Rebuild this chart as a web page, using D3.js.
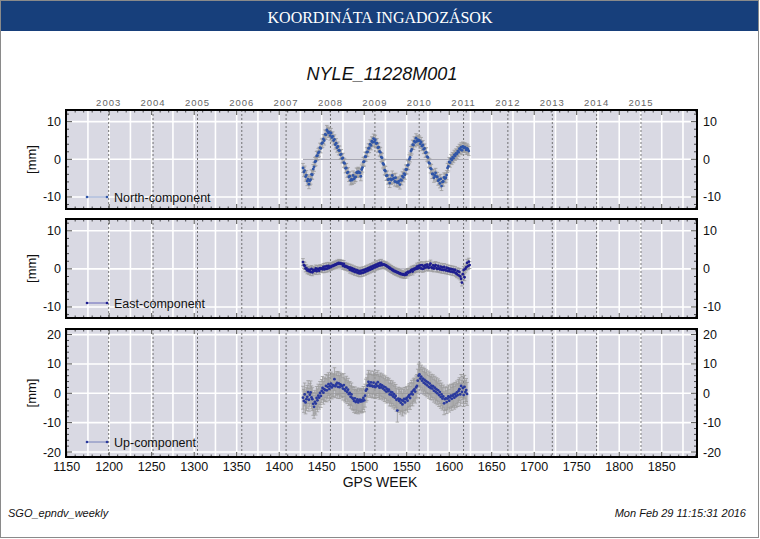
<!DOCTYPE html>
<html><head><meta charset="utf-8">
<script src="https://cdn.jsdelivr.net/npm/d3@7"></script>
<style>body{margin:0;background:#fff}svg{display:block}</style>
</head><body>
<script>
const firstWeek = 1428;
const north = [-2.3,-3.4,-3.0,-4.6,-4.2,-5.8,-5.3,-6.6,-5.7,-5.4,-4.0,-4.1,-2.6,-2.0,-0.7,-0.5,0.9,1.0,1.7,2.0,3.1,2.9,4.2,4.4,5.4,5.0,6.6,6.5,7.8,7.4,7.0,7.2,6.3,7.0,5.8,6.1,5.0,5.3,3.9,4.3,3.1,3.4,2.4,2.3,1.2,1.4,0.2,0.4,-0.9,-1.1,-2.4,-2.3,-3.6,-3.4,-4.7,-4.5,-5.6,-5.3,-5.5,-4.3,-5.2,-4.8,-4.7,-3.5,-3.6,-3.3,-3.5,-3.6,-4.5,-2.7,-2.2,-0.7,-0.6,0.7,0.7,1.9,2.0,2.9,3.0,4.0,3.7,4.8,4.5,5.5,4.7,5.2,4.2,4.3,3.1,3.2,2.1,1.9,0.6,0.4,-1.1,-1.4,-2.9,-3.1,-4.4,-4.3,-5.4,-5.3,-6.3,-5.2,-5.5,-4.3,-5.2,-5.0,-5.9,-4.9,-6.1,-6.0,-6.2,-5.8,-6.7,-5.4,-5.6,-4.5,-4.8,-3.8,-4.1,-2.7,-2.7,-1.6,-1.5,0.0,0.5,2.2,2.6,3.9,3.8,4.8,4.5,5.6,4.8,5.2,4.9,5.0,4.1,4.6,3.5,3.8,2.7,2.9,1.7,1.9,0.7,0.5,-0.9,-1.1,-2.4,-2.6,-3.9,-3.9,-4.9,-4.3,-3.6,-4.6,-4.7,-5.7,-5.4,-6.4,-5.2,-7.1,-6.0,-5.9,-4.8,-5.1,-4.9,-4.2,-2.3,-1.9,-0.7,-0.9,0.1,-0.2,0.6,0.3,1.2,0.9,1.6,1.4,2.2,1.9,2.8,2.6,3.2,2.4,3.4,3.0,3.2,3.1,2.5,2.9,2.6,2.2];
const east = [1.8,1.0,0.8,0.1,0.2,-0.4,-0.2,-0.6,-0.3,-0.8,0.0,-0.9,-0.3,-0.5,-0.4,0.1,-0.6,0.0,-0.1,-0.5,0.2,0.0,0.1,-0.1,0.5,-0.1,0.6,0.0,0.7,0.1,0.8,0.3,0.6,0.5,0.8,0.7,1.0,0.9,1.2,1.1,1.4,1.3,1.6,1.4,1.5,1.3,1.4,0.8,1.3,0.6,0.8,0.5,0.6,0.3,0.4,-0.2,0.3,-0.4,0.1,-0.6,-0.1,-0.8,-0.3,-0.9,-0.4,-1.1,-0.6,-1.2,-0.5,-1.1,-0.4,-1.0,-0.3,-0.8,-0.1,-0.6,0.1,-0.4,0.3,-0.2,0.5,0.0,0.7,0.2,0.9,0.4,1.1,0.6,1.3,0.8,1.5,0.9,1.6,1.0,1.2,1.1,1.1,0.9,0.9,0.6,0.6,0.3,0.3,0.0,0.0,-0.3,-0.3,-0.6,-0.5,-0.8,-0.7,-1.0,-0.9,-1.2,-1.1,-1.4,-1.3,-1.5,-1.4,-1.6,-1.6,-1.1,-1.5,-0.8,-1.0,-0.7,-0.8,-0.4,-0.2,-0.7,0.0,-0.2,0.1,0.0,0.6,0.1,0.8,0.3,0.9,0.1,1.0,0.0,0.7,0.2,1.0,0.4,1.1,0.5,0.3,1.0,1.4,0.4,0.2,0.9,0.1,0.7,1.0,0.2,0.0,0.8,0.1,-0.1,0.6,-0.2,0.4,-0.3,0.5,-0.2,-0.4,0.3,-0.5,0.1,-0.6,0.0,-0.7,-0.1,-0.8,-0.2,-0.9,-0.3,-1.1,-1.4,-0.6,-1.7,-0.8,-2.0,-2.6,-3.6,-1.4,-0.3,-2.2,0.0,0.4,1.6,0.7,1.9,1.0];
const up = [-1.5,-2.6,-0.4,-3.1,-2.0,-1.2,0.4,-2.2,-0.5,0.3,-1.4,-2.0,-3.6,
  -4.6,-2.9,-3.5,-1.6,-2.4,-0.8,-1.5,0.1,-0.9,0.8,
  1.8,0.2,1.4,1.1,2.5,1.0,2.2,3.1,1.5,2.4,
  3.3,2.0,2.8,2.6,4.8,2.4,3.0,3.5,2.2,3.4,
  2.1,3.0,2.7,2.4,1.6,2.8,1.3,0.9,1.9,0.4,
  1.2,-0.3,0.1,-1.2,-0.4,-1.6,-1.9,-2.6,-1.7,-3.0,
  -2.6,-2.1,-3.1,-2.5,-2.2,-2.8,-2.3,-2.7,-1.6,-2.4,
  -0.8,0.9,1.4,2.6,3.9,3.0,2.5,3.7,2.6,2.3,
  3.6,2.4,2.1,3.2,2.5,3.8,2.4,1.9,3.0,2.0,
  2.7,1.6,2.3,1.1,2.0,0.6,1.5,0.7,1.2,-0.4,
  0.5,-0.5,0.3,-1.1,-0.3,-1.5,-0.9,-2.2,-5.9,-1.8,
  -2.6,-2.0,-3.2,-2.3,-3.8,-2.6,-1.9,-3.1,-2.0,-1.6,
  -2.5,-1.1,-0.6,-1.6,-0.2,0.5,-0.4,1.0,1.3,0.6,
  2.0,2.5,4.3,6.0,6.4,5.0,5.7,4.3,5.0,3.6,
  4.6,3.2,4.1,2.7,3.7,2.2,3.3,1.8,2.6,1.6,
  2.4,0.9,1.9,0.5,1.4,0.0,1.0,-0.6,0.4,-1.2,
  -0.4,-1.8,-1.1,-3.4,-2.0,-1.7,-3.0,-1.8,-1.1,-2.5,
  -1.4,-0.8,-1.9,-0.9,-0.5,-1.5,-0.2,-1.0,0.3,-0.6,
  0.8,1.4,-0.4,2.5,0.5,1.8,-0.6,2.2,0.4,1.1,-0.2];
const northErr = 1.2, eastErr = 0.9, upErr = 3.9;
const yearLabels = ["2003","2004","2005","2006","2007","2008","2009","2010","2011","2012","2013","2014","2015"];
const yearWeeks = [1199.4,1251.6,1303.9,1356.0,1408.1,1460.3,1512.6,1564.7,1616.9,1669.0,1721.3,1773.4,1825.6];
const weekTicks = [1150,1200,1250,1300,1350,1400,1450,1500,1550,1600,1650,1700,1750,1800,1850];

const W = 760, H = 539;
const svg = d3.select("body").append("svg").attr("width", W).attr("height", H);
const font = "'Liberation Sans', Arial, Helvetica, sans-serif";

svg.append("rect").attr("x",0.5).attr("y",0.5).attr("width",W-2).attr("height",H-2).attr("fill","#fff").attr("stroke","#8a8a8a");
svg.append("rect").attr("x",1).attr("y",1).attr("width",W-3).attr("height",30).attr("fill","#173f7b");
svg.append("text").attr("x",380).attr("y",23).attr("text-anchor","middle").attr("fill","#fff")
  .attr("font-family","'Liberation Serif', 'Times New Roman', serif").attr("font-size",16).text("KOORDINÁTA INGADOZÁSOK");
svg.append("text").attr("x",382).attr("y",80).attr("text-anchor","middle").attr("fill","#111")
  .attr("font-family",font).attr("font-style","italic").attr("font-size",18).text("NYLE_11228M001");

const x = d3.scaleLinear().domain([1149.2, 1891.5]).range([66, 697]);

svg.append("g").selectAll("text").data(yearLabels).join("text")
  .attr("x",(d,i)=>x(yearWeeks[i])).attr("y",106).attr("text-anchor","middle")
  .attr("font-family",font).attr("font-size",9.5).attr("letter-spacing","1px").attr("fill","#666").text(d=>d);

const panels = [
  {name:"North-component", vals:north, err:northErr, top:110, bottom:209, dom:[-13.2,13.1], ticks:[-10,0,10], color:"#2f55a8", lineColor:"#6680bb", leg:12},
  {name:"East-component", vals:east, err:eastErr, top:219, bottom:318, dom:[-12.9,13.1], ticks:[-10,0,10], color:"#1e1e90", lineColor:"#4a4ab0", leg:15},
  {name:"Up-component", vals:up, err:upErr, top:329, bottom:457, dom:[-21.7,21.9], ticks:[-20,-10,0,10,20], color:"#2a3a9e", lineColor:"#5a6ab0", leg:15}
];

panels.forEach((p,pi) => {
  const y = d3.scaleLinear().domain(p.dom).range([p.bottom, p.top]);
  const g = svg.append("g");
  g.append("rect").attr("x",66).attr("y",p.top).attr("width",631).attr("height",p.bottom-p.top).attr("fill","#d9d9e3");
  const grid = d3.range(1175, 1891, 25);
  g.selectAll("line.vg").data(grid).join("line").attr("class","vg")
    .attr("x1",d=>x(d)).attr("x2",d=>x(d)).attr("y1",p.top).attr("y2",p.bottom)
    .attr("stroke","#fff").attr("stroke-width",1.6);
  g.selectAll("line.hg").data(p.ticks).join("line").attr("class","hg")
    .attr("x1",66).attr("x2",697).attr("y1",d=>y(d)).attr("y2",d=>y(d))
    .attr("stroke","#fff").attr("stroke-width",1.6);
  g.selectAll("line.yr").data(yearWeeks).join("line").attr("class","yr")
    .attr("x1",d=>x(d)).attr("x2",d=>x(d)).attr("y1",p.top).attr("y2",p.bottom)
    .attr("stroke","#555").attr("stroke-width",0.8).attr("stroke-dasharray","2,2");
  const w0 = firstWeek, w1 = firstWeek + p.vals.length - 1;
  g.append("line").attr("x1",x(w0)).attr("x2",x(w1)).attr("y1",y(0)).attr("y2",y(0)).attr("stroke","#a8a8b4").attr("stroke-width",1.2);
  const data = p.vals.map((v,i)=>({w:firstWeek+i, v}));
  const eb = g.append("g").attr("stroke","#9a9a9a").attr("stroke-width",0.8);
  eb.selectAll("line.e").data(data).join("line").attr("class","e")
    .attr("x1",d=>x(d.w)).attr("x2",d=>x(d.w)).attr("y1",d=>y(d.v-p.err)).attr("y2",d=>y(d.v+p.err));
  eb.selectAll("line.c1").data(data).join("line").attr("class","c1")
    .attr("x1",d=>x(d.w)-1.8).attr("x2",d=>x(d.w)+1.8).attr("y1",d=>y(d.v+p.err)).attr("y2",d=>y(d.v+p.err));
  eb.selectAll("line.c2").data(data).join("line").attr("class","c2")
    .attr("x1",d=>x(d.w)-1.8).attr("x2",d=>x(d.w)+1.8).attr("y1",d=>y(d.v-p.err)).attr("y2",d=>y(d.v-p.err));
  g.selectAll("circle.pt").data(data).join("circle").attr("class","pt")
    .attr("cx",d=>x(d.w)).attr("cy",d=>y(d.v)).attr("r",1.4).attr("fill",p.color);
  const ly = p.bottom - p.leg;
  g.append("line").attr("x1",87).attr("x2",107).attr("y1",ly).attr("y2",ly).attr("stroke",p.lineColor).attr("stroke-width",0.8);
  g.selectAll("circle.lg").data([87,107]).join("circle").attr("class","lg").attr("cx",d=>d).attr("cy",ly).attr("r",1.3).attr("fill",p.color);
  g.append("text").attr("x",114).attr("y",ly+4.5).attr("font-family",font).attr("font-size",12.5).attr("fill","#111").text(p.name);
  const minor = d3.range(Math.ceil(p.dom[0]/2)*2, p.dom[1], 2);
  const tk = g.append("g").attr("stroke","#222").attr("stroke-width",0.8);
  tk.selectAll("line.lt").data(minor).join("line").attr("class","lt")
    .attr("x1",66).attr("x2",d=>66+(d%10===0?6:3)).attr("y1",d=>y(d)).attr("y2",d=>y(d));
  tk.selectAll("line.rt").data(minor).join("line").attr("class","rt")
    .attr("x1",697).attr("x2",d=>697-(d%10===0?6:3)).attr("y1",d=>y(d)).attr("y2",d=>y(d));
  const wk = d3.range(1150, 1891, 10);
  tk.selectAll("line.bt").data(wk).join("line").attr("class","bt")
    .attr("x1",d=>x(d)).attr("x2",d=>x(d)).attr("y1",p.bottom).attr("y2",d=>p.bottom-(d%50===0?5:2.5));
  tk.selectAll("line.tt").data(wk).join("line").attr("class","tt")
    .attr("x1",d=>x(d)).attr("x2",d=>x(d)).attr("y1",p.top).attr("y2",d=>p.top+(d%50===0?5:2.5));
  g.append("rect").attr("x",66).attr("y",p.top).attr("width",631).attr("height",p.bottom-p.top)
    .attr("fill","none").attr("stroke","#000").attr("stroke-width",2);
  g.selectAll("text.yl").data(p.ticks).join("text").attr("class","yl")
    .attr("x",61).attr("y",d=>y(d)+4.5).attr("text-anchor","end").attr("font-family",font).attr("font-size",12.5).attr("fill","#111").text(d=>d);
  g.selectAll("text.yr").data(p.ticks).join("text").attr("class","yr")
    .attr("x",703).attr("y",d=>y(d)+4.5).attr("font-family",font).attr("font-size",12.5).attr("fill","#111").text(d=>d);
  const cy = (p.top+p.bottom)/2;
  g.append("text").attr("transform",`translate(36,${cy}) rotate(-90)`).attr("text-anchor","middle")
    .attr("font-family",font).attr("font-size",13).attr("fill","#111").text("[mm]");
});

svg.append("g").selectAll("text").data(weekTicks).join("text")
  .attr("x",d=>x(d)).attr("y",471).attr("text-anchor","middle").attr("font-family",font).attr("font-size",12.5).attr("fill","#111").text(d=>d);
svg.append("text").attr("x",380).attr("y",487).attr("text-anchor","middle").attr("font-family",font).attr("font-size",14).attr("fill","#111").text("GPS WEEK");
svg.append("text").attr("x",8).attr("y",517).attr("font-family",font).attr("font-style","italic").attr("font-size",11).attr("fill","#111").text("SGO_epndv_weekly");
svg.append("text").attr("x",746).attr("y",517).attr("text-anchor","end").attr("font-family",font).attr("font-style","italic").attr("font-size",11).attr("fill","#111").text("Mon Feb 29 11:15:31 2016");
</script>
</body></html>
